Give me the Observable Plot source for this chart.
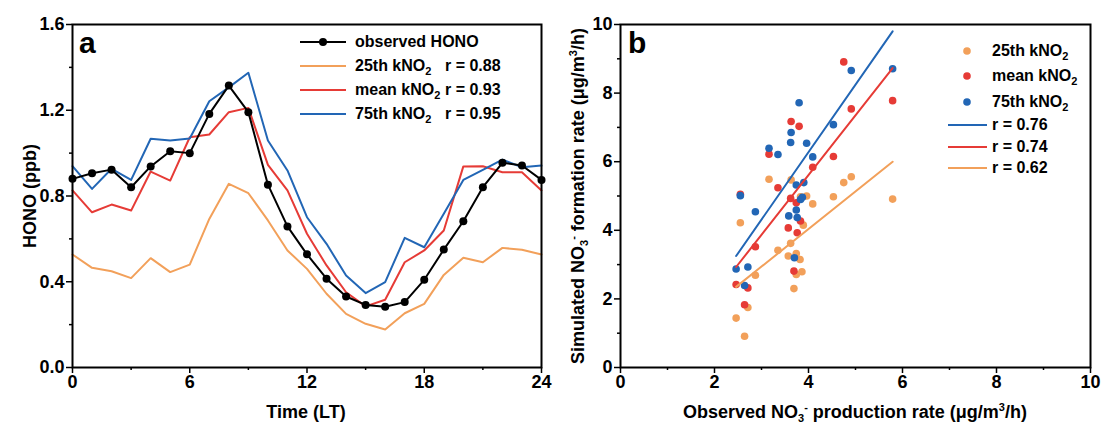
<!DOCTYPE html>
<html><head><meta charset="utf-8">
<script src="https://cdn.jsdelivr.net/npm/d3@7"></script>
<script src="https://cdn.jsdelivr.net/npm/@observablehq/plot@0.6"></script>
<style>
body{margin:0;background:#fff;}
#wrap{position:relative;width:1105px;height:430px;font-family:Arial,"Liberation Sans",sans-serif;font-weight:bold;color:#000;}
.abs{position:absolute;white-space:nowrap;}
.ttl{font-size:18px;}
.rot{transform:translate(-50%,-50%) rotate(-90deg);}
.ctr{transform:translate(-50%,-50%);}
.panel{font-size:30px;}
.leg{font-size:16px;line-height:24px;}
.leg .row{display:flex;align-items:center;height:24px;}
.leg .row2{display:flex;align-items:center;}
sub{font-size:11px;vertical-align:-4px;line-height:0;}
sup{font-size:11px;vertical-align:7px;line-height:0;}
</style>
</head><body>
<div id="wrap">
  <div id="pa" class="abs" style="left:0;top:0"></div>
  <div id="pb" class="abs" style="left:560px;top:0"></div>
  <div class="abs panel" style="left:79px;top:26px;">a</div>
  <div class="abs panel" style="left:628px;top:26px;">b</div>
  <div class="abs ttl rot" style="left:30px;top:196px;">HONO (ppb)</div>
  <div class="abs ttl ctr" style="left:306px;top:412px;">Time (LT)</div>
  <div class="abs ttl rot" style="left:578px;top:196px;">Simulated NO<sub>3</sub><sup>-</sup> formation rate (μg/m<sup>3</sup>/h)</div>
  <div class="abs ttl ctr" style="left:855px;top:412px;">Observed NO<sub>3</sub><sup>-</sup> production rate (μg/m<sup>3</sup>/h)</div>
  <div id="lega" class="abs leg" style="left:300px;top:30px;"></div>
  <div id="legb" class="abs leg" style="left:940px;top:38px;"></div>
</div>
<script>
// ---------- Panel a data ----------
const hours = [0,1,2,3,4,5,6,7,8,9,10,11,12,13,14,15,16,17,18,19,20,21,22,23,24];
const observedHONO = [0.880,0.906,0.923,0.841,0.938,1.009,1.000,1.183,1.315,1.191,0.853,0.658,0.528,0.414,0.331,0.292,0.283,0.305,0.409,0.550,0.682,0.841,0.955,0.942,0.875];
const hono25th = [0.527,0.465,0.449,0.417,0.510,0.445,0.480,0.693,0.857,0.813,0.686,0.546,0.460,0.344,0.250,0.204,0.177,0.253,0.297,0.432,0.512,0.491,0.558,0.549,0.527];
const honoMean = [0.826,0.724,0.760,0.732,0.914,0.872,1.074,1.087,1.191,1.211,0.945,0.826,0.624,0.476,0.351,0.285,0.316,0.491,0.546,0.639,0.938,0.939,0.911,0.911,0.826];
const hono75th = [0.939,0.833,0.927,0.875,1.067,1.059,1.068,1.242,1.307,1.375,1.059,0.919,0.701,0.577,0.429,0.347,0.398,0.605,0.561,0.717,0.875,0.922,0.970,0.934,0.942];
const seriesA = ["observed HONO","25th kNO2","mean kNO2","75th kNO2"];
const rA = ["", "r = 0.88", "r = 0.93", "r = 0.95"];
const xTicksA = [0,6,12,18,24], xMinorA = [3,9,15,21];
const yTicksA = [0,0.4,0.8,1.2,1.6], yMinorA = [0.2,0.6,1.0,1.4];

// ---------- Panel b data ----------
const obs25 = [2.46,2.55,2.64,2.71,2.87,3.16,3.35,3.57,3.62,3.63,3.69,3.74,3.74,3.82,3.83,3.86,3.89,3.96,4.09,4.53,4.75,4.91,5.79];
const sim25 = [1.44,4.22,0.91,1.75,2.69,5.49,3.42,3.25,3.62,5.47,2.30,3.32,2.71,3.15,4.98,2.79,4.15,5.00,4.77,4.98,5.39,5.56,4.91];
const obsMean = [2.46,2.55,2.64,2.71,2.87,3.16,3.35,3.57,3.62,3.63,3.69,3.74,3.76,3.80,3.83,4.09,4.53,4.75,4.91,5.79];
const simMean = [2.42,5.05,1.83,2.32,3.52,6.22,5.24,4.07,4.93,7.17,2.81,4.80,3.93,7.03,4.27,5.84,6.15,8.91,7.54,7.78];
const obs75 = [2.46,2.55,2.64,2.71,2.87,3.16,3.35,3.58,3.62,3.63,3.70,3.74,3.74,3.76,3.80,3.83,3.87,3.90,3.96,4.09,4.53,4.91,5.79];
const sim75 = [2.87,5.01,2.39,2.93,4.54,6.39,6.21,4.42,6.56,6.85,3.20,5.32,4.59,4.37,7.72,4.90,4.96,5.39,6.54,6.14,7.08,8.66,8.71];
const fitX = [2.46,5.79];
const fit25 = [2.35,6.00], fitMean = [2.93,8.73], fit75 = [3.25,9.80];
const seriesB = ["25th kNO2","mean kNO2","75th kNO2"];
const rB = ["r = 0.76","r = 0.74","r = 0.62"];
const ticksB = [0,2,4,6,8,10], minorB = [1,3,5,7,9];

const C_ORANGE = "#F2A05A", C_RED = "#E63B36", C_BLUE = "#2266B5";
const fontStyle = {fontFamily:'Arial,"Liberation Sans",sans-serif', fontSize:"18px", fontWeight:"bold", color:"black", background:"transparent", overflow:"visible"};

const rows = (xs, ys) => xs.map((x,i)=>({x, y: ys[i]}));

const pa = Plot.plot({
  width:560, height:430, marginLeft:72, marginRight:19, marginTop:24, marginBottom:63,
  x:{domain:[0,24]}, y:{domain:[0,1.6]},
  style: fontStyle,
  marks:[
    Plot.axisX({ticks:xTicksA, tickSize:6, tickPadding:2, strokeWidth:1.5, label:null}),
    Plot.axisX({ticks:xMinorA, tickSize:3, strokeWidth:1.5, tickFormat:()=>"", label:null}),
    Plot.axisY({ticks:yTicksA, tickSize:6, tickPadding:2, strokeWidth:1.5, tickFormat:d3.format(".1f"), label:null}),
    Plot.axisY({ticks:yMinorA, tickSize:3, strokeWidth:1.5, tickFormat:()=>"", label:null}),
    Plot.line(rows(hours, hono25th), {x:"x", y:"y", stroke:C_ORANGE, strokeWidth:2}),
    Plot.line(rows(hours, honoMean), {x:"x", y:"y", stroke:C_RED, strokeWidth:2}),
    Plot.line(rows(hours, hono75th), {x:"x", y:"y", stroke:C_BLUE, strokeWidth:2}),
    Plot.line(rows(hours, observedHONO), {x:"x", y:"y", stroke:"black", strokeWidth:2}),
    Plot.dot(rows(hours, observedHONO), {x:"x", y:"y", fill:"black", r:4}),
    Plot.frame({stroke:"black", strokeWidth:2})
  ]
});
document.getElementById("pa").appendChild(pa);

const pb = Plot.plot({
  width:545, height:430, marginLeft:60, marginRight:15, marginTop:24, marginBottom:63,
  x:{domain:[0,10]}, y:{domain:[0,10]},
  style: fontStyle,
  marks:[
    Plot.axisX({ticks:ticksB, tickSize:6, tickPadding:2, strokeWidth:1.5, label:null}),
    Plot.axisX({ticks:minorB, tickSize:3, strokeWidth:1.5, tickFormat:()=>"", label:null}),
    Plot.axisY({ticks:ticksB, tickSize:6, tickPadding:2, strokeWidth:1.5, label:null}),
    Plot.axisY({ticks:minorB, tickSize:3, strokeWidth:1.5, tickFormat:()=>"", label:null}),
    Plot.dot(rows(obs25, sim25), {x:"x", y:"y", fill:C_ORANGE, r:3.8}),
    Plot.dot(rows(obsMean, simMean), {x:"x", y:"y", fill:C_RED, r:3.8}),
    Plot.dot(rows(obs75, sim75), {x:"x", y:"y", fill:C_BLUE, r:3.8}),
    Plot.line(rows(fitX, fit75), {x:"x", y:"y", stroke:C_BLUE, strokeWidth:2}),
    Plot.line(rows(fitX, fitMean), {x:"x", y:"y", stroke:C_RED, strokeWidth:2}),
    Plot.line(rows(fitX, fit25), {x:"x", y:"y", stroke:C_ORANGE, strokeWidth:2}),
    Plot.frame({stroke:"black", strokeWidth:2})
  ]
});
document.getElementById("pb").appendChild(pb);

// ---------- Legends ----------
const sub2 = s => s.replace("kNO2","kNO<sub>2</sub>");
const colA = ["black", C_ORANGE, C_RED, C_BLUE];
document.getElementById("lega").innerHTML = seriesA.map((s,i)=>
  `<div class="row"><svg width="46" height="24" style="margin-right:9px"><line x1="0" x2="46" y1="12" y2="12" stroke="${colA[i]}" stroke-width="2"/>${i===0?'<circle cx="23" cy="12" r="4" fill="black"/>':''}</svg><span style="display:inline-block;width:${i===0?140:90}px">${sub2(s)}</span><span>${rA[i]}</span></div>`
).join("");
const colB = [C_ORANGE, C_RED, C_BLUE];
const colL = [C_BLUE, C_RED, C_ORANGE];
document.getElementById("legb").innerHTML =
  seriesB.map((s,i)=>`<div class="row2" style="height:25.5px"><svg width="52" height="24"><circle cx="27" cy="12" r="3.8" fill="${colB[i]}"/></svg><span>${sub2(s)}</span></div>`).join("") +
  rB.map((s,i)=>`<div class="row2" style="height:21.5px"><svg width="52" height="20"><line x1="8" x2="47" y1="10" y2="10" stroke="${colL[i]}" stroke-width="2"/></svg><span>${s}</span></div>`).join("");
</script>
</body></html>
